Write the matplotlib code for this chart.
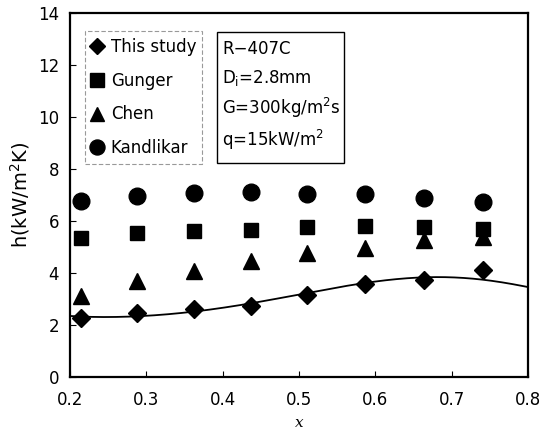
import numpy as np
import matplotlib
matplotlib.use("Agg")
import matplotlib.pyplot as plt
from matplotlib.patches import Rectangle

quality = [0.214, 0.288, 0.362, 0.437, 0.511, 0.587, 0.664, 0.741]
this_study = [2.26, 2.46, 2.61, 2.71, 3.14, 3.59, 3.74, 4.10]
gunger = [5.35, 5.53, 5.62, 5.66, 5.77, 5.82, 5.75, 5.69]
chen = [3.12, 3.67, 4.08, 4.47, 4.76, 4.96, 5.25, 5.38]
kandlikar = [6.78, 6.96, 7.06, 7.10, 7.04, 7.04, 6.87, 6.72]

# trend curve
trend_x = [0.202, 0.246, 0.289, 0.324, 0.362, 0.399, 0.436, 0.473, 0.510,
           0.545, 0.589, 0.624, 0.667, 0.711, 0.746, 0.781, 0.800]
trend_y = [2.34, 2.29, 2.32, 2.40, 2.53, 2.67, 2.79, 2.98, 3.23,
           3.44, 3.64, 3.75, 3.80, 3.80, 3.74, 3.57, 3.44]

x_ticks = [0.2, 0.3, 0.4, 0.5, 0.6, 0.7, 0.8]
y_ticks = [0, 2, 4, 6, 8, 10, 12, 14]

info_lines = ['R\u2212407C', 'D$_\\mathrm{i}$=2.8mm', 'G=300kg/m$^2$s', 'q=15kW/m$^2$']

plt.rcParams['font.family'] = ['DejaVu Sans']
fig = plt.figure(figsize=(5.44, 4.30), dpi=100)
ax = fig.add_axes([0.1287, 0.124, 0.842, 0.845])

ax.plot(quality, this_study, 'D', color='black', ms=9, label='This study', linestyle='none')
ax.plot(quality, gunger, 's', color='black', ms=10.5, label='Gunger', linestyle='none')
ax.plot(quality, chen, '^', color='black', ms=11.5, label='Chen', linestyle='none')
ax.plot(quality, kandlikar, 'o', color='black', ms=12, label='Kandlikar', linestyle='none')

coef = np.polyfit(trend_x, trend_y, 6)
xs = np.linspace(0.2, 0.8, 300)
ax.plot(xs, np.polyval(coef, xs), color='black', lw=1.3)

ax.set_xlim(0.2, 0.8)
ax.set_ylim(0, 14)
ax.set_xticks(x_ticks)
ax.set_yticks(y_ticks)
ax.set_xticklabels([f"{v:.1f}" for v in x_ticks])
ax.set_yticklabels([str(v) for v in y_ticks])
ax.tick_params(direction='in', length=4, labelsize=12, width=0.8)
ax.tick_params(axis='x', pad=10)
ax.tick_params(axis='y', pad=8)
for s in ax.spines.values():
    s.set_linewidth(1.6)

ax.set_xlabel('x', family='DejaVu Serif', style='italic', fontsize=11, labelpad=5)
ax.set_ylabel('h(kW/m$^2$K)', fontsize=14, labelpad=4)

leg = ax.legend(loc='upper left', bbox_to_anchor=(0.033, 0.950), fontsize=12,
                handlelength=0.7, handletextpad=0.45, borderpad=0.38,
                labelspacing=0.95, fancybox=False, frameon=True, markerscale=0.9,
                borderaxespad=0)
leg.get_frame().set_edgecolor('gray')
leg.get_frame().set_linestyle((0, (4, 2)))
leg.get_frame().set_linewidth(0.8)

ax.add_patch(Rectangle((0.321, 0.588), 0.277, 0.3605, transform=ax.transAxes,
                       fc='white', ec='black', lw=1.0, zorder=5))
for line, yb in zip(info_lines, [0.888, 0.808, 0.722, 0.636]):
    ax.text(0.332, yb, line, transform=ax.transAxes, fontsize=12,
            va='baseline', ha='left', zorder=6)

fig.savefig('out.png', dpi=100)
